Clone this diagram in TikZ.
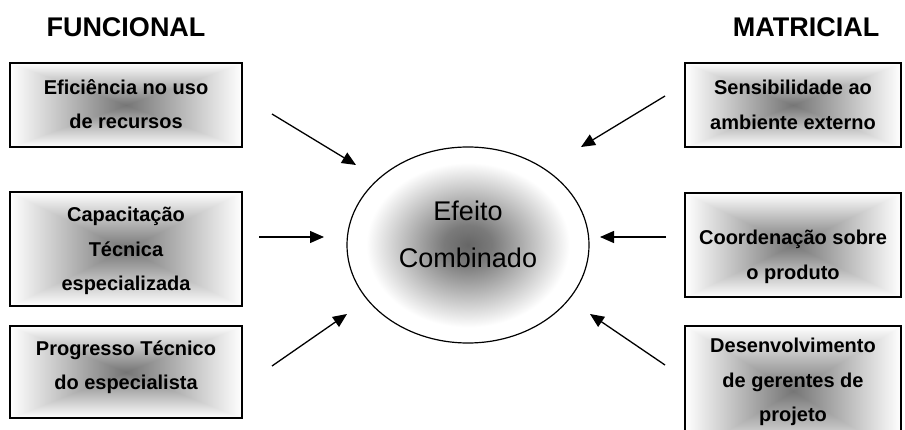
\documentclass[tikz,border=0pt]{standalone}
\usepackage{fontspec}
\setmainfont{Liberation Sans}
\usetikzlibrary{shapes.geometric,arrows.meta}
\pgfdeclareradialshading{ellshade}{\pgfpoint{0bp}{0bp}}{color(0bp)=(black!60); color(5bp)=(black!52); color(21bp)=(white); color(50bp)=(white)}
\pgfdeclarefunctionalshading{boxshade}{\pgfpoint{0bp}{0bp}}{\pgfpoint{100bp}{100bp}}{}{
  50 sub abs exch 50 sub abs 2 copy lt {exch} if pop
  25 div dup 1 gt {pop 1} if
  0.54 mul 0.46 add dup dup
}
\tikzset{
  boxnode/.style={draw=black, line width=1.6pt, inner sep=0pt, outer sep=0pt, shading=boxshade},
  boxtext/.style={align=center, inner sep=0pt, font={\fontsize{20}{34.5}\selectfont\bfseries}},
  titletext/.style={inner sep=0pt, font={\fontsize{27}{30}\selectfont\bfseries}},
  ctext/.style={align=center, inner sep=0pt, font={\fontsize{27}{47}\selectfont}},
  arr/.style={line width=1.3pt, -{Triangle[length=14pt,width=12pt]}},
}
\begin{document}
\begin{tikzpicture}[x=1pt,y=-1pt]
\useasboundingbox (0,0) rectangle (905,430);
% titles
\node[titletext] (tf) at (126,27) {FUNCIONAL};
\node[titletext] (tm) at (806,27) {MATRICIAL};
% boxes
\node[boxnode, minimum width=232pt, minimum height=84pt] (L1) at (126,105) {};
\node[boxnode, minimum width=232pt, minimum height=114pt] (L2) at (126,249) {};
\node[boxnode, minimum width=232pt, minimum height=92pt] (L3) at (126,372) {};
\node[boxnode, minimum width=216pt, minimum height=84pt] (R1) at (793,105) {};
\node[boxnode, minimum width=216pt, minimum height=104pt] (R2) at (793,245) {};
\node[boxnode, minimum width=216pt, minimum height=130pt] (R3) at (793,391) {};
\node[draw=black, line width=1.2pt, ellipse, minimum width=242pt, minimum height=196pt, inner sep=0pt, shading=ellshade] (E) at (468,245) {};
% texts
\node[boxtext] (tL1) at (126,104) {Eficiência no uso\\de recursos};
\node[boxtext] (tL2) at (126,251) {Capacitação\\Técnica\\especializada};
\node[boxtext] (tL3) at (126,367) {Progresso Técnico\\do especialista};
\node[boxtext] (tR1) at (793,105) {Sensibilidade ao\\ambiente externo};
\node[boxtext] (tR2) at (793,257) {Coordenação sobre\\o produto};
\node[boxtext] (tR3) at (793,382) {Desenvolvimento\\de gerentes de\\projeto};
\node[ctext] (tE) at (468,234) {Efeito\\Combinado};
% arrow end points
\coordinate (a1s) at (272,114); \coordinate (a1e) at (356,165);
\coordinate (a2s) at (259,237); \coordinate (a2e) at (324,237);
\coordinate (a3s) at (272,366); \coordinate (a3e) at (347,314);
\coordinate (b1s) at (665,96);  \coordinate (b1e) at (581,147);
\coordinate (b2s) at (666,237); \coordinate (b2e) at (600,237);
\coordinate (b3s) at (665,365); \coordinate (b3e) at (590,314);
\draw[arr] (a1s) -- (a1e);
\draw[arr] (a2s) -- (a2e);
\draw[arr] (a3s) -- (a3e);
\draw[arr] (b1s) -- (b1e);
\draw[arr] (b2s) -- (b2e);
\draw[arr] (b3s) -- (b3e);
\end{tikzpicture}
\end{document}
